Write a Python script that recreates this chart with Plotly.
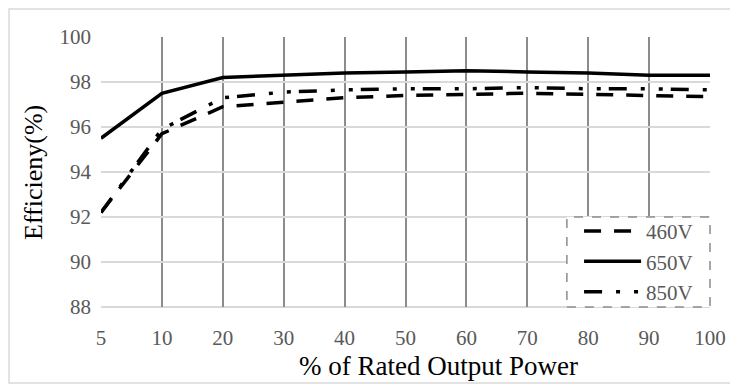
import plotly.graph_objects as go

power = ["5", "10", "20", "30", "40", "50", "60", "70", "80", "90", "100"]
eff_460 = [92.2, 95.7, 96.9, 97.1, 97.3, 97.4, 97.45, 97.5, 97.45, 97.4, 97.35]
eff_650 = [95.5, 97.5, 98.2, 98.3, 98.4, 98.45, 98.5, 98.45, 98.4, 98.3, 98.3]
eff_850 = [92.2, 95.9, 97.3, 97.55, 97.65, 97.7, 97.7, 97.75, 97.7, 97.7, 97.65]

serif = "Liberation Serif, Times New Roman, serif"
tick_grey = "#595959"

fig = go.Figure()
fig.add_trace(go.Scatter(x=power, y=eff_460, name="460V", mode="lines",
                         line=dict(color="black", width=3.5, dash="17px,13px")))
fig.add_trace(go.Scatter(x=power, y=eff_650, name="650V", mode="lines",
                         line=dict(color="black", width=3.5)))
fig.add_trace(go.Scatter(x=power, y=eff_850, name="850V", mode="lines",
                         line=dict(color="black", width=3.5,
                                   dash="18px,14px,4px,14px,4px,8px")))

# bottom axis line, dashed legend box, outer frame
fig.add_shape(type="line", xref="paper", yref="paper", x0=0, x1=1, y0=0, y1=0,
              line=dict(color="#d9d9d9", width=2), layer="below")
fig.add_shape(type="rect", xref="paper", yref="paper", x0=0.765, x1=1.0, y0=0.0, y1=0.333,
              line=dict(color="#8c8c8c", width=1.5, dash="dash"), fillcolor="white", layer="above")
fig.add_shape(type="rect", xref="paper", yref="paper", x0=-0.151, x1=1.0378, y0=-0.2815, y1=1.1037,
              line=dict(color="#d9d9d9", width=1.5))

# axis titles
fig.add_annotation(text="% of Rated Output Power", xref="paper", yref="paper",
                   x=0.5534, y=-0.22, xanchor="center", yanchor="middle", showarrow=False,
                   font=dict(family=serif, size=27, color="black"))
fig.add_annotation(text="Efficieny(%)", xref="paper", yref="paper", textangle=-90,
                   x=-0.1117, y=0.5, xanchor="center", yanchor="middle", showarrow=False,
                   font=dict(family=serif, size=26, color="black"))

fig.update_layout(
    width=730, height=377,
    margin=dict(l=93, r=28, t=29, b=78),
    paper_bgcolor="white", plot_bgcolor="white",
    font=dict(family=serif, size=21, color=tick_grey),
    showlegend=True,
    legend=dict(x=0.785, y=0.356, xanchor="left", yanchor="top",
                bgcolor="rgba(0,0,0,0)", borderwidth=0,
                font=dict(family=serif, size=21, color=tick_grey),
                tracegroupgap=0, itemwidth=57),
    xaxis=dict(
        type="category", range=[0, 10],
        showgrid=True, gridcolor="#8c8c8c", gridwidth=2,
        showline=False, zeroline=False, ticks="", ticklabelstandoff=16,
    ),
    yaxis=dict(
        range=[88, 100], dtick=2,
        showgrid=True, gridcolor="#d9d9d9", gridwidth=2,
        showline=False, zeroline=False, ticks="", ticklabelstandoff=9,
    ),
)

fig.write_html("out.html")
